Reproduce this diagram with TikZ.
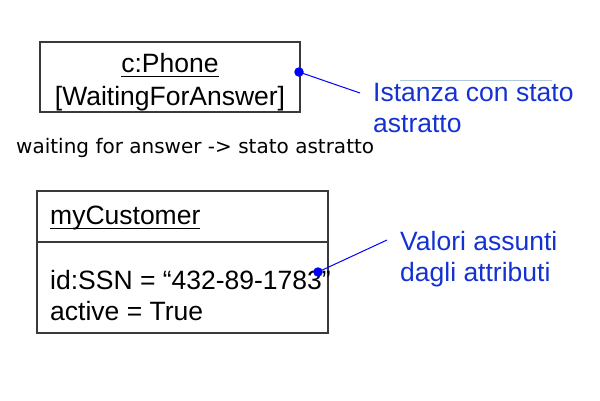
\documentclass[tikz,border=0pt]{standalone}
\usepackage{fontspec}
\setmainfont{Liberation Sans}
\newfontfamily\notefont{DejaVu Sans}
\usepackage{xcolor}
\definecolor{Frame Grey}{HTML}{3A3A3A}
\definecolor{Pure Blue}{HTML}{0000FF}
\definecolor{Label Blue}{HTML}{1432D2}
\definecolor{Pale Steel}{HTML}{AFC8DA}
\colorlet{cFrame}{Frame Grey}
\colorlet{cDot}{Pure Blue}
\colorlet{cLabel}{Label Blue}
\colorlet{cRule}{Pale Steel}
\usepackage{tikz}
\usetikzlibrary{positioning}
\newcommand{\objname}[1]{\setbox0\hbox{#1}\rlap{\rule[-4.8pt]{\wd0}{1.3pt}}\box0}
\tikzset{
	x = 1pt,
	y = -1pt,
	objbox/.style={
		draw=cFrame,
		line width=1.5pt,
		inner sep=0pt,
		outer sep=0pt
	},
	objtext/.style={
		inner sep=0pt,
		font=\fontsize{26.5}{31}\selectfont
	},
	calloutlabel/.style={
		objtext,
		text=cLabel,
		align=left
	},
	note/.style={
		inner sep=0pt,
		font=\notefont\fontsize{20}{24}\selectfont
	},
	dot/.style={
		circle,
		fill=cDot,
		inner sep=0pt,
		minimum size=9.5pt
	},
	callout/.style={
		draw=cDot,
		line width=1pt
	}
}

\begin{document}
\begin{tikzpicture}
		\useasboundingbox (0,0) rectangle (600,400);

		% object with state
		\node[objbox, minimum width=260pt, minimum height=70pt] (phone) at (170,77) {};
		\node[objtext, anchor=base] (phonename) at (170,72) {\objname{c:Phone}};
		\node[objtext, anchor=base] (phonestate) at (170,105) {[WaitingForAnswer]};

		\node[note, anchor=base west] (remark) at (16,153) {waiting for answer -> stato astratto};

		% object with attribute values
		\node[objbox, anchor=north west, minimum width=291pt, minimum height=51pt] (custhead) at (37,191) {};
		\node[objbox, anchor=north west, minimum width=291pt, minimum height=91pt] (custbody) at (custhead.south west) {};
		\node[objtext, anchor=base west] (custname) at (50,224) {\objname{myCustomer}};
		\node[objtext, anchor=base west] (custid) at (50,289) {id:SSN = “432-89-1783”};
		\node[objtext, anchor=base west] (custactive) at (50,320) {active = True};

		% callouts
		\node[dot] (dotphone) at (299,72) {};
		\coordinate (tipphone) at (360,93);
		\draw[callout] (dotphone.center) -- (tipphone);
		\draw[cRule, line width=1pt] (400,80) -- (552,80);
		\node[calloutlabel, anchor=north west] (lblstate) at (373,83) {Istanza con stato\\astratto};

		\node[dot] (dotid) at (318,272) {};
		\coordinate (tipid) at (387,240);
		\draw[callout] (dotid.center) -- (tipid);
		\node[calloutlabel, anchor=north west] (lblvalues) at (400,231) {Valori assunti\\dagli attributi};
	\end{tikzpicture}
\end{document}
